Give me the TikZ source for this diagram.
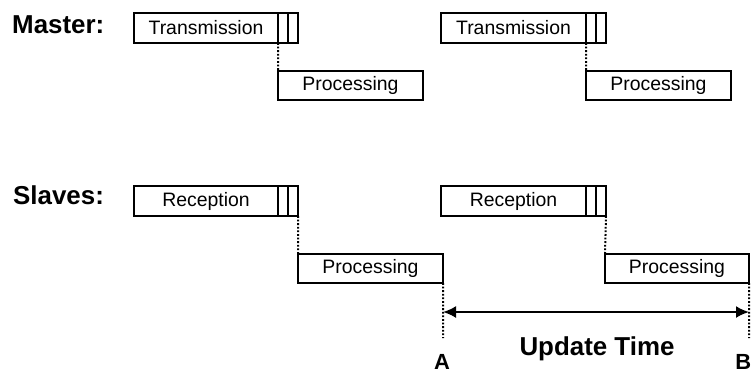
\documentclass[tikz,border=0pt]{standalone}
\usepackage{fontspec}
\setmainfont{Liberation Sans}
\usetikzlibrary{arrows.meta}
\begin{document}
\begin{tikzpicture}[x=1bp,y=-1bp,
  box/.style={draw, line width=1.3bp, inner sep=0pt, outer sep=0pt, minimum height=30bp,
    anchor=north west, font=\fontsize{19.5}{19.5}\selectfont},
  slot/.style={box, minimum width=20bp},
  sep/.style={line width=2bp},
  dotline/.style={line width=2bp, dash pattern=on 1.8bp off 1.8bp},
  lbl/.style={font=\bfseries\fontsize{26}{26}\selectfont, anchor=base west, inner sep=0pt},
  endlbl/.style={font=\bfseries\fontsize{22}{22}\selectfont, inner sep=0pt},
  span/.style={line width=2bp, {Latex[length=13bp,width=12bp]}-{Latex[length=13bp,width=12bp]}},
]
\useasboundingbox (0,0) rectangle (753,375);
\clip (0,0) rectangle (753,375);

% labels
\node[lbl] (lm) at (12,33) {Master:};
\node[lbl] (ls) at (13,204) {Slaves:};

% master, first cycle
\node[box, minimum width=144bp] (t1) at (134,13) {Transmission};
\node[slot] (t1s) at (t1.north east) {};
\draw[sep] (t1.north east) -- (t1.south east);
\draw[sep] (t1s.north) -- (t1s.south);
\node[box, minimum width=145bp, minimum height=29bp] (p1) at (278,71) {Processing};
\draw[dotline] (t1.south east) -- (p1.north west);

% master, second cycle
\node[box, minimum width=145bp] (t2) at (441,13) {Transmission};
\node[slot] (t2s) at (t2.north east) {};
\draw[sep] (t2.north east) -- (t2.south east);
\draw[sep] (t2s.north) -- (t2s.south);
\node[box, minimum width=145bp, minimum height=29bp] (p2) at (586,71) {Processing};
\draw[dotline] (t2.south east) -- (p2.north west);

% slaves, first cycle
\node[box, minimum width=144bp] (r1) at (134,186) {Reception};
\node[slot] (r1s) at (r1.north east) {};
\draw[sep] (r1.north east) -- (r1.south east);
\draw[sep] (r1s.north) -- (r1s.south);
\node[box, minimum width=145bp, minimum height=29bp] (q1) at (298,254) {Processing};
\draw[dotline] (r1s.south east) -- (q1.north west);

% slaves, second cycle
\node[box, minimum width=145bp] (r2) at (441,186) {Reception};
\node[slot] (r2s) at (r2.north east) {};
\draw[sep] (r2.north east) -- (r2.south east);
\draw[sep] (r2s.north) -- (r2s.south);
\node[box, minimum width=144bp, minimum height=29bp] (q2) at (605,254) {Processing};
\draw[dotline] (r2s.south east) -- (q2.north west);

% update time
\coordinate (ea) at (443,338);
\coordinate (eb) at (749,338);
\draw[dotline] (q1.south east) -- (ea);
\draw[dotline] (q2.south east) -- (eb);
\coordinate (aa) at (443,312);
\coordinate (ab) at (749,312);
\draw[span] (aa) -- (ab);
\node[lbl, anchor=base] (ut) at (597,355) {Update Time};
\node[endlbl, anchor=base] (la) at (442,369) {A};
\node[endlbl, anchor=base east] (lb) at (751.5,369) {B};
\end{tikzpicture}
\end{document}
